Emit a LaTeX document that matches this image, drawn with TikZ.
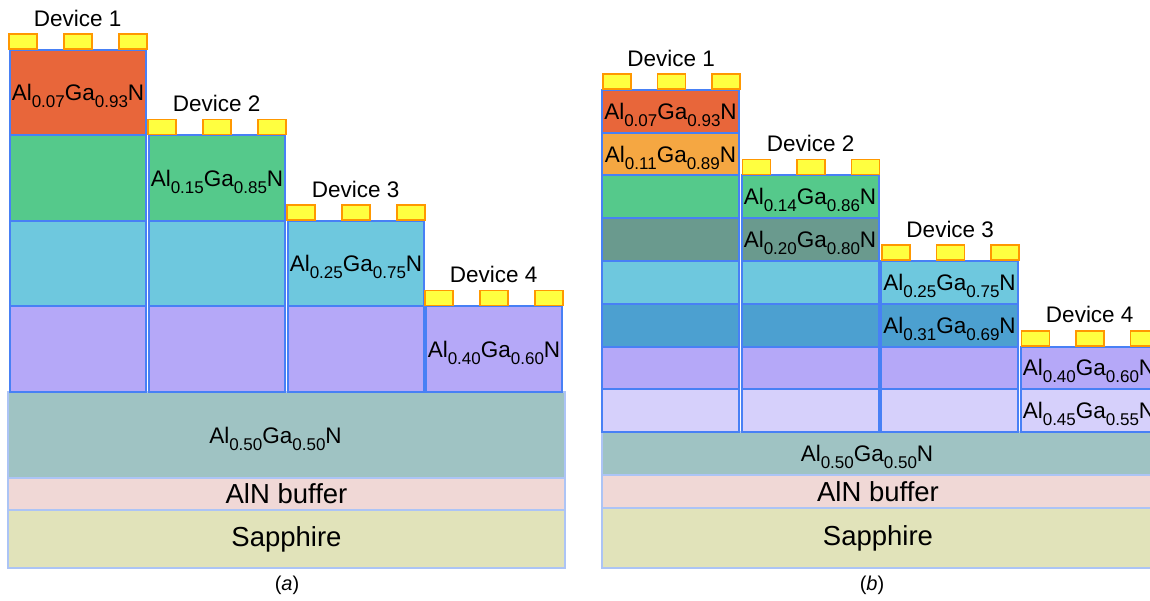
\documentclass[tikz,border=0pt]{standalone}
\usepackage{fontspec}
\setmainfont{Liberation Sans}
\usetikzlibrary{positioning}
\definecolor{edge}{RGB}{72,128,245}
\definecolor{softedge}{RGB}{172,196,245}
\definecolor{padedge}{RGB}{255,152,0}
\definecolor{padfill}{RGB}{255,255,64}
\definecolor{cOrange}{RGB}{232,102,58}
\definecolor{cAmber}{RGB}{245,167,66}
\definecolor{cGreen}{RGB}{85,201,139}
\definecolor{cSage}{RGB}{106,154,142}
\definecolor{cCyan}{RGB}{110,200,222}
\definecolor{cBlue}{RGB}{76,160,208}
\definecolor{cPurple}{RGB}{181,168,248}
\definecolor{cLilac}{RGB}{214,208,251}
\definecolor{cBase}{RGB}{159,195,195}
\definecolor{cBuffer}{RGB}{240,216,214}
\definecolor{cSapph}{RGB}{225,227,186}
\newcommand{\subfig}[1]{\raisebox{-7pt}[0pt][0pt]{\fontsize{17}{17}\selectfont #1}}
\newcommand{\alga}[2]{Al\subfig{#1}Ga\subfig{#2}N}

\begin{document}
\begin{tikzpicture}[
    x=1pt, y=-1pt,
    layerA/.style={rectangle, draw=edge, line width=2pt, inner sep=0pt, outer sep=0pt, anchor=north west,
        minimum width=136pt, minimum height=85.5pt, font=\fontsize{22.5}{27}\selectfont},
    layerB/.style={layerA, minimum width=137pt, minimum height=42.75pt},
    subst/.style={rectangle, draw=softedge, line width=2pt, inner sep=0pt, outer sep=0pt, anchor=north west,
        font=\fontsize{27.5}{32}\selectfont},
    pad/.style={rectangle, draw=padedge, fill=padfill, line width=1.5pt, inner sep=0pt, anchor=south west,
        minimum width=28pt, minimum height=15pt},
    devlabel/.style={inner sep=1pt, font=\fontsize{22.5}{27}\selectfont},
    caption/.style={font=\fontsize{20}{24}\selectfont}
]
\useasboundingbox (0,0) rectangle (1150,601);
\clip (0,0) rectangle (1150,601);

% (a) substrate
\node[subst, fill=cBase, minimum width=557pt, minimum height=86pt] (aBase) at (8,392) {};
\node[layerA, draw=none, fill=none, anchor=center, xshift=-11pt] (aBaseTxt) at (aBase.center) {\alga{0.50}{0.50}};
\node[subst, fill=cBuffer, minimum width=557pt, minimum height=32pt] (aBuf) at (8,478) {AlN buffer};
\node[subst, fill=cSapph, minimum width=557pt, minimum height=58pt] (aSap) at (8,510) {Sapphire};

% (a) devices
\node[layerA, fill=cOrange] (a11) at (10,50) {\alga{0.07}{0.93}};
\node[layerA, fill=cGreen] (a12) at (10,135.5) {};
\node[layerA, fill=cCyan] (a13) at (10,221) {};
\node[layerA, fill=cPurple] (a14) at (10,306.5) {};
\node[layerA, fill=cGreen] (a22) at (149,135.5) {\alga{0.15}{0.85}};
\node[layerA, fill=cCyan] (a23) at (149,221) {};
\node[layerA, fill=cPurple] (a24) at (149,306.5) {};
\node[layerA, fill=cCyan] (a33) at (288,221) {\alga{0.25}{0.75}};
\node[layerA, fill=cPurple] (a34) at (288,306.5) {};
\node[layerA, fill=cPurple] (a44) at (426,306.5) {\alga{0.40}{0.60}};

% (a) contacts
\foreach \px [count=\k] in {8,63,118} \node[pad] (pa1-\k) at (\px,50) {};
\foreach \px [count=\k] in {147,202,257} \node[pad] (pa2-\k) at (\px,135.5) {};
\foreach \px [count=\k] in {286,341,396} \node[pad] (pa3-\k) at (\px,221) {};
\foreach \px [count=\k] in {424,479,534} \node[pad] (pa4-\k) at (\px,306.5) {};

\node[devlabel, above=6pt of pa1-2] (devA1) {Device 1};
\node[devlabel, above=6pt of pa2-2] (devA2) {Device 2};
\node[devlabel, above=6pt of pa3-2] (devA3) {Device 3};
\node[devlabel, above=6pt of pa4-2] (devA4) {Device 4};

\node[caption] (capA) at (287,585) {(\textit{a})};

% (b) substrate
\node[subst, fill=cBase, minimum width=552pt, minimum height=43pt] (bBase) at (602,432) {};
\node[layerA, draw=none, fill=none, anchor=center, xshift=-11pt] (bBaseTxt) at (bBase.center) {\alga{0.50}{0.50}};
\node[subst, fill=cBuffer, minimum width=552pt, minimum height=33pt] (bBuf) at (602,475) {AlN buffer};
\node[subst, fill=cSapph, minimum width=552pt, minimum height=60pt] (bSap) at (602,508) {Sapphire};

% (b) devices
\node[layerB, fill=cOrange] (b11) at (602,90) {\alga{0.07}{0.93}};
\node[layerB, fill=cAmber] (b12) at (602,132.75) {\alga{0.11}{0.89}};
\node[layerB, fill=cGreen] (b13) at (602,175.5) {};
\node[layerB, fill=cSage] (b14) at (602,218.25) {};
\node[layerB, fill=cCyan] (b15) at (602,261) {};
\node[layerB, fill=cBlue] (b16) at (602,303.75) {};
\node[layerB, fill=cPurple] (b17) at (602,346.5) {};
\node[layerB, fill=cLilac] (b18) at (602,389.25) {};

\node[layerB, fill=cGreen] (b23) at (741.5,175.5) {\alga{0.14}{0.86}};
\node[layerB, fill=cSage] (b24) at (741.5,218.25) {\alga{0.20}{0.80}};
\node[layerB, fill=cCyan] (b25) at (741.5,261) {};
\node[layerB, fill=cBlue] (b26) at (741.5,303.75) {};
\node[layerB, fill=cPurple] (b27) at (741.5,346.5) {};
\node[layerB, fill=cLilac] (b28) at (741.5,389.25) {};

\node[layerB, fill=cCyan] (b35) at (881,261) {\alga{0.25}{0.75}};
\node[layerB, fill=cBlue] (b36) at (881,303.75) {\alga{0.31}{0.69}};
\node[layerB, fill=cPurple] (b37) at (881,346.5) {};
\node[layerB, fill=cLilac] (b38) at (881,389.25) {};

\node[layerB, fill=cPurple] (b47) at (1020.5,346.5) {\alga{0.40}{0.60}};
\node[layerB, fill=cLilac] (b48) at (1020.5,389.25) {\alga{0.45}{0.55}};

% (b) contacts
\foreach \px [count=\k] in {602,656.5,711} \node[pad] (pb1-\k) at (\px,90) {};
\foreach \px [count=\k] in {741.5,796,850.5} \node[pad] (pb2-\k) at (\px,175.5) {};
\foreach \px [count=\k] in {881,935.5,990} \node[pad] (pb3-\k) at (\px,261) {};
\foreach \px [count=\k] in {1020.5,1075,1129.5} \node[pad] (pb4-\k) at (\px,346.5) {};

\node[devlabel, above=6pt of pb1-2] (devB1) {Device 1};
\node[devlabel, above=6pt of pb2-2] (devB2) {Device 2};
\node[devlabel, above=6pt of pb3-2] (devB3) {Device 3};
\node[devlabel, above=6pt of pb4-2] (devB4) {Device 4};

\node[caption] (capB) at (872,585) {(\textit{b})};

\end{tikzpicture}
\end{document}
